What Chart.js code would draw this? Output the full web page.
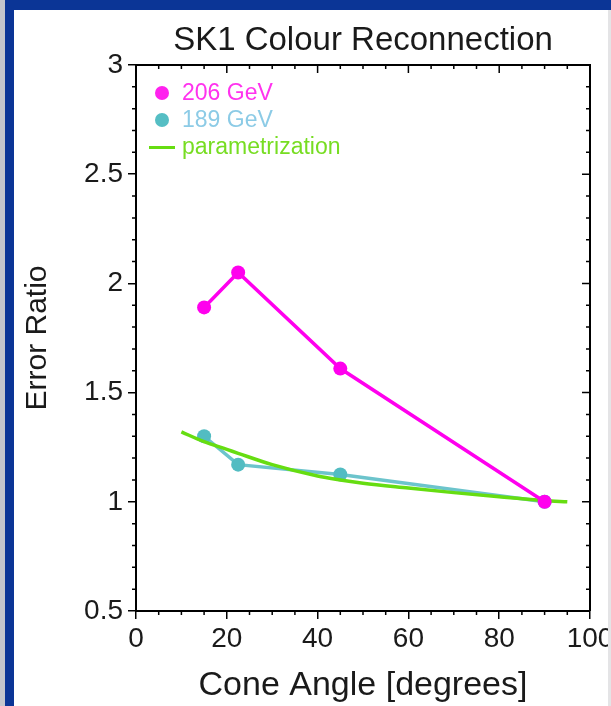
<!DOCTYPE html>
<html>
<head>
<meta charset="utf-8">
<script src="https://cdn.jsdelivr.net/npm/chart.js@4.4.1/dist/chart.umd.min.js"></script>
<style>
  html, body { margin: 0; padding: 0; }
  body { width: 611px; height: 706px; overflow: hidden; position: relative; background: #fff; font-family: "Liberation Sans", Arial, sans-serif; }
  #grayL { position: absolute; left: 0; top: 0; width: 5px; height: 706px; background: #c4c6cc; }
  #blueL { position: absolute; left: 5px; top: 0; width: 9px; height: 706px; background: #0b3596; }
  #blueT { position: absolute; left: 5px; top: 0; width: 606px; height: 10px; background: #0b3596; }
  #grayR { position: absolute; left: 608px; top: 10px; width: 3px; height: 696px; background: #e4e4e6; z-index: 3; }
  #wrap { position: absolute; left: 14px; top: 10px; width: 610px; height: 696px; }
  #legend { position: absolute; left: 0; top: 0; z-index: 2; }
  .item { position: absolute; font-size: 23px; line-height: 23px; white-space: nowrap; }
  .dot { position: absolute; width: 14px; height: 14px; border-radius: 50%; }
  .bar { position: absolute; width: 26px; height: 3px; }
</style>
</head>
<body>
<div id="grayL"></div><div id="blueL"></div><div id="blueT"></div><div id="grayR"></div>
<div id="wrap"><canvas id="mycanvas" width="610" height="696"></canvas></div>
<div id="legend"></div>
<script>
var chartTitle = "SK1 Colour Reconnection";
var xTitle = "Cone Angle [degrees]";
var yTitle = "Error Ratio";

// 206 GeV
var x206 = [15, 22.5, 45, 90];
var y206 = [1.89, 2.05, 1.61, 1.0];
// 189 GeV
var x189 = [15, 22.5, 45, 90];
var y189 = [1.30, 1.17, 1.125, 1.0];
// parametrization curve
var xPar = [10, 15, 20, 22.5, 30, 40, 45, 50, 60, 70, 80, 90, 95];
var yPar = [1.32, 1.275, 1.24, 1.222, 1.17, 1.118, 1.10, 1.085, 1.063, 1.042, 1.023, 1.006, 1.0];

var xTicks = [0, 20, 40, 60, 80, 100];
var yTicks = [0.5, 1, 1.5, 2, 2.5, 3];
var xMinorStep = 5;
var yMinorStep = 0.1;

var labels = ["206 GeV", "189 GeV", "parametrization"];

function pts(xs, ys) {
  var out = [];
  for (var i in xs) out.push({x: xs[i], y: ys[i]});
  return out;
}

var textColor = '#1a1a1a';
var font = '"Liberation Sans", Arial, sans-serif';

var titlePlugin = {
  id: 'titlePlugin',
  afterDraw: function(chart) {
    var ctx = chart.ctx, a = chart.chartArea;
    ctx.save();
    ctx.font = '33px ' + font;
    ctx.fillStyle = textColor;
    ctx.textAlign = 'center';
    ctx.textBaseline = 'middle';
    ctx.fillText(chartTitle, (a.left + a.right) / 2, 31);
    ctx.restore();
  }
};

var framePlugin = {
  id: 'framePlugin',
  afterDraw: function(chart) {
    var ctx = chart.ctx, a = chart.chartArea, x = chart.scales.x, y = chart.scales.y;
    ctx.save();
    ctx.strokeStyle = '#000';
    ctx.lineWidth = 1.5;
    ctx.beginPath();
    var nx = Math.round((x.max - x.min) / xMinorStep);
    for (var i = 0; i <= nx; i++) {
      var v = x.min + i * xMinorStep;
      var px = x.getPixelForValue(v);
      var major = xTicks.indexOf(v) >= 0;
      ctx.moveTo(px, a.top); ctx.lineTo(px, a.top + (major ? 8 : 4));
      if (!major) { ctx.moveTo(px, a.bottom); ctx.lineTo(px, a.bottom + 4); }
    }
    var ny = Math.round((y.max - y.min) / yMinorStep);
    for (var j = 0; j <= ny; j++) {
      var w = y.min + j * yMinorStep;
      var py = y.getPixelForValue(w);
      var maj = j % 5 === 0;
      ctx.moveTo(a.right, py); ctx.lineTo(a.right - (maj ? 8 : 4), py);
      if (!maj) { ctx.moveTo(a.left, py); ctx.lineTo(a.left - 4, py); }
    }
    ctx.stroke();
    ctx.lineWidth = 2;
    ctx.beginPath();
    ctx.moveTo(a.left, a.top); ctx.lineTo(a.right, a.top); ctx.lineTo(a.right, a.bottom);
    ctx.stroke();
    ctx.restore();
  }
};

var chartdata = {
  datasets: [
    {
      label: labels[0],
      data: pts(x206, y206),
      borderColor: "#ff00ee",
      backgroundColor: "#ff00ee",
      borderWidth: 3.5,
      pointRadius: 7,
      pointBorderWidth: 0,
      tension: 0,
      order: 0
    },
    {
      label: labels[1],
      data: pts(x189, y189),
      borderColor: "#6cc4cc",
      backgroundColor: "#52bcc2",
      borderWidth: 3.5,
      pointRadius: 7,
      pointBorderWidth: 0,
      tension: 0,
      order: 2
    },
    {
      label: labels[2],
      data: pts(xPar, yPar),
      borderColor: "#66dd11",
      backgroundColor: "#66dd11",
      borderWidth: 3.5,
      pointRadius: 0,
      cubicInterpolationMode: 'monotone',
      order: 1
    }
  ]
};

var ctx = document.getElementById("mycanvas");
var LineGraph = new Chart(ctx, {
  type: 'line',
  data: chartdata,
  plugins: [titlePlugin, framePlugin],
  options: {
    responsive: false,
    animation: false,
    events: [],
    layout: { padding: { top: 55, right: 34, left: 0, bottom: 0 } },
    plugins: { legend: { display: false }, tooltip: { enabled: false }, title: { display: false } },
    scales: {
      x: {
        type: 'linear',
        min: 0, max: 100,
        afterFit: function(s) { s.height = 95; },
        afterBuildTicks: function(s) { s.ticks = xTicks.map(function(v) { return {value: v}; }); },
        ticks: { color: textColor, font: { family: font, size: 28 }, padding: 3, maxRotation: 0, autoSkip: false,
                 callback: function(v) { return String(v); } },
        grid: { drawOnChartArea: false, color: '#000', tickColor: '#000', tickLength: 8, lineWidth: 1.5 },
        border: { color: '#000', width: 2 },
        title: { display: true, text: xTitle, color: textColor, font: { family: font, size: 34, lineHeight: 1 }, padding: { top: 0, bottom: 3 } }
      },
      y: {
        type: 'linear',
        min: 0.5, max: 3,
        afterFit: function(s) { s.width = 122; },
        afterBuildTicks: function(s) { s.ticks = yTicks.map(function(v) { return {value: v}; }); },
        ticks: { color: textColor, font: { family: font, size: 28 }, padding: 5, autoSkip: false,
                 callback: function(v) { return String(v); } },
        grid: { drawOnChartArea: false, color: '#000', tickColor: '#000', tickLength: 8, lineWidth: 1.5 },
        border: { color: '#000', width: 2 },
        title: { display: true, text: yTitle, color: textColor, font: { family: font, size: 30, lineHeight: 1 }, padding: { top: 9, bottom: 0 } }
      }
    }
  }
});

// legend drawn inside the plot, top left
var legendColors = ["#ff22ee", "#55bec4", "#66dd11"];
var legendText = ["#ff33ee", "#8ccbe6", "#77dd22"];
var leg = document.getElementById("legend");
var rows = [93, 120, 147];
for (var k in labels) {
  var cy = rows[k];
  if (k < 2) {
    var d = document.createElement("div");
    d.className = "dot";
    d.style.left = (162 - 7) + "px"; d.style.top = (cy - 7) + "px";
    d.style.background = legendColors[k];
    leg.appendChild(d);
  } else {
    var b = document.createElement("div");
    b.className = "bar";
    b.style.left = "149px"; b.style.top = (cy - 1.5) + "px";
    b.style.background = legendColors[k];
    leg.appendChild(b);
  }
  var t = document.createElement("div");
  t.className = "item";
  t.style.left = "182px"; t.style.top = (cy - 12) + "px";
  t.style.color = legendText[k];
  t.textContent = labels[k];
  leg.appendChild(t);
}
</script>
</body>
</html>
